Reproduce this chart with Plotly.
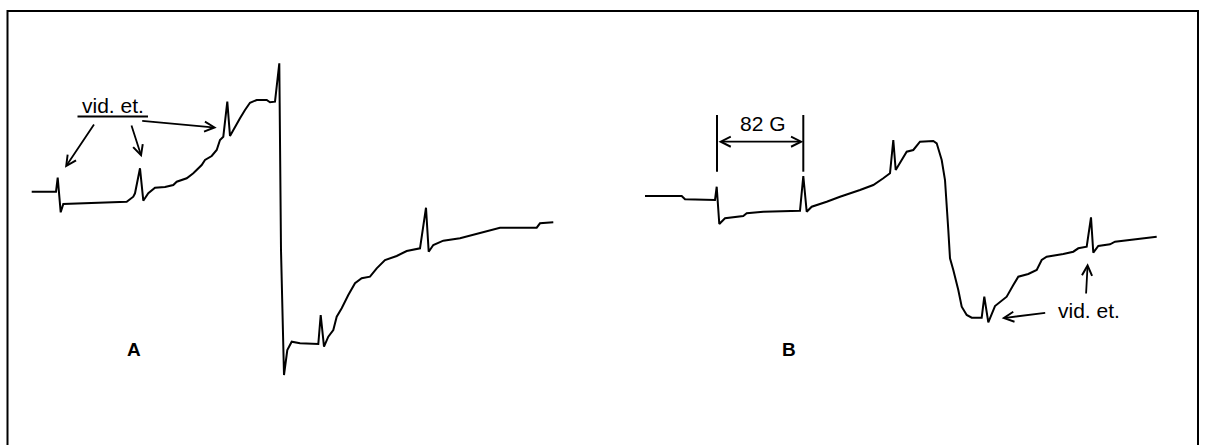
import plotly.graph_objects as go

# ---- Spectrum A (field position, signal) ----
field_A = [31.7, 56, 57.7, 60.7, 63.3, 126.7, 133.3, 135, 140, 143.3, 148.3, 155, 165, 173.3,
           176.7, 186.7, 193.3, 201.7, 205, 211.7, 216.7, 220, 223.3, 227.3, 230, 235, 240,
           245, 250, 256.7, 266.7, 270, 275, 279.3, 281, 284, 287.3, 291.7, 300, 318.3,
           320.7, 324, 328.3, 333.3, 336.7, 341.7, 348.3, 355, 361.7, 370, 376.7, 385,
           396.7, 406.7, 420, 426, 428.7, 433.3, 443.3, 460, 476.7, 490, 500, 536.7, 540, 553.3]
signal_A = [191.7, 191.7, 177.7, 212.3, 204, 201.7, 196.7, 193.3, 168.3, 200.7, 193.3, 187.7, 187, 185,
            181.7, 178.3, 173.3, 165, 160, 156, 150, 140, 136.7, 101.7, 136, 126.7, 118.3,
            110, 102.7, 100, 100, 102.3, 101.7, 63.3, 250, 375, 350, 341.7, 343.3, 344,
            315, 346.7, 336.7, 330, 316.7, 308.3, 295, 283.3, 278.3, 276.7, 268.3, 260,
            256, 251, 248.3, 207.7, 251.7, 245, 240.7, 238.3, 234, 231, 227.7, 227.7, 223.3, 222.3]

# ---- Spectrum B ----
field_B = [645, 681.7, 685, 715, 716.7, 719.3, 725, 743.3, 746.7, 763.3, 800, 803.3, 806.7,
           811.7, 826.7, 840, 860, 873.3, 883.3, 890, 893.3, 895.7, 901.7, 906.7, 913.3, 920,
           933.3, 936.7, 941.7, 945, 948.3, 950, 953.3, 958.3, 961.7, 966.7, 971.7, 981.7,
           984.3, 988.3, 995, 1006.7, 1013.3, 1018.3, 1028.3, 1036.7, 1041.7, 1046.7, 1063.3,
           1073.3, 1078.3, 1086.7, 1091, 1093.3, 1098.3, 1110, 1115, 1133.3, 1156.7]
signal_B = [196, 196, 199.3, 200, 186.7, 224, 218.3, 216, 213.3, 211.7, 210.7, 176, 211.7,
            206.7, 201.7, 196.7, 190, 185, 178.3, 173.3, 140, 170, 160, 151.7, 150, 141.7,
            141, 143.3, 160, 180, 230, 258.3, 270, 290, 306.7, 315, 317.7, 317.7,
            296.7, 322.3, 306, 296.7, 285, 276.7, 274, 270, 260, 256.7, 254,
            251.7, 248.3, 246.7, 217.3, 252.7, 246, 244.3, 241.7, 239.3, 236.7]

panel_labels = ["A", "B"]
marker_text = "vid. et."
spacing_text = "82 G"

fig = go.Figure()
fig.add_trace(go.Scatter(x=field_A, y=signal_A, mode="lines",
                         line=dict(color="black", width=2), hoverinfo="skip"))
fig.add_trace(go.Scatter(x=field_B, y=signal_B, mode="lines",
                         line=dict(color="black", width=2), hoverinfo="skip"))

font = dict(family="Liberation Sans, Arial", size=21, color="black")
lab_font = dict(family="Liberation Sans, Arial", size=19, color="black")
ann = []
ann.append(dict(x=134, y=349, text="<b>" + panel_labels[0] + "</b>", showarrow=False, font=lab_font))
ann.append(dict(x=789, y=349, text="<b>" + panel_labels[1] + "</b>", showarrow=False, font=lab_font))
ann.append(dict(x=113, y=105, text=marker_text, showarrow=False, font=font))
ann.append(dict(x=1089, y=310, text=marker_text, showarrow=False, font=font))
ann.append(dict(x=762.5, y=123, text=spacing_text, showarrow=False, font=font))

def arrow(x0, y0, x1, y1, side="end"):
    return dict(x=x1, y=y1, ax=x0, ay=y0, xref="x", yref="y", axref="x", ayref="y",
                text="", showarrow=True, arrowhead=5, arrowsize=1.1, arrowwidth=1.8,
                arrowcolor="black", arrowside=side, standoff=0, startstandoff=0)

ann += [arrow(95, 123, 65, 167.7),
        arrow(131, 124, 141.7, 157.3),
        arrow(140.7, 120.7, 216.7, 127.7),
        arrow(1046.7, 312.7, 1001.7, 318.3),
        arrow(1086, 295, 1087.7, 263.3),
        arrow(717, 141.7, 803.3, 141.7, side="end+start")]

shapes = [
    dict(type="line", x0=77.5, x1=148, y0=116.5, y1=116.5, line=dict(color="black", width=2)),
    dict(type="line", x0=717, x1=717, y0=115, y1=171.7, line=dict(color="black", width=2)),
    dict(type="line", x0=803.3, x1=803.3, y0=115, y1=171.7, line=dict(color="black", width=2)),
    dict(type="rect", x0=7.5, x1=1198, y0=11, y1=470, line=dict(color="black", width=2)),
]

fig.update_layout(
    width=1206, height=445, margin=dict(l=0, r=0, t=0, b=0),
    paper_bgcolor="white", plot_bgcolor="white", showlegend=False,
    xaxis=dict(range=[0, 1206], visible=False, fixedrange=True),
    yaxis=dict(range=[445, 0], visible=False, fixedrange=True),
    annotations=ann, shapes=shapes,
)
fig.write_html("out.html")
